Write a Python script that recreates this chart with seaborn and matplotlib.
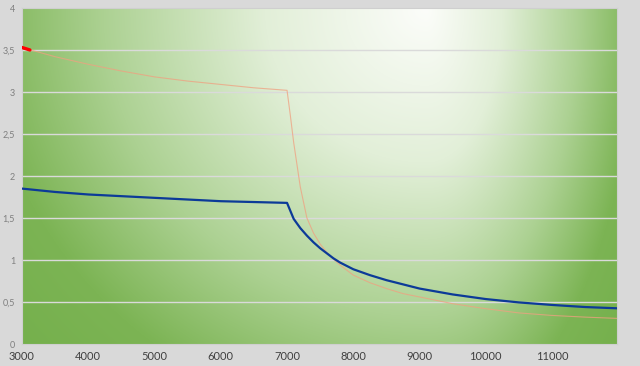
import numpy as np
import pandas as pd
import matplotlib
matplotlib.use("Agg")
import matplotlib.pyplot as plt
import seaborn as sns

# ---- data ----
blue_x = [3000, 3500, 4000, 4500, 5000, 5500, 6000, 6500, 7000,
          7100, 7200, 7300, 7400, 7500, 7600, 7700, 7800, 8000, 8250,
          8500, 8750, 9000, 9500, 10000, 10500, 11000, 11500, 11980]
blue_y = [1.85, 1.81, 1.78, 1.76, 1.74, 1.72, 1.70, 1.69, 1.68,
          1.49, 1.38, 1.29, 1.21, 1.14, 1.08, 1.02, 0.97, 0.89, 0.82,
          0.76, 0.71, 0.66, 0.59, 0.535, 0.495, 0.465, 0.44, 0.425]

orange_x = [3000, 3500, 4000, 4500, 5000, 5500, 6000, 6500, 7000,
            7050, 7100, 7200, 7300, 7400, 7500, 7600, 7700, 7800, 8000,
            8250, 8500, 8750, 9000, 9500, 10000, 10500, 11000, 11500, 11980]
orange_y = [3.53, 3.42, 3.33, 3.25, 3.18, 3.13, 3.09, 3.05, 3.02,
            2.72, 2.40, 1.87, 1.50, 1.32, 1.19, 1.09, 1.01, 0.94, 0.82,
            0.73, 0.66, 0.60, 0.56, 0.48, 0.42, 0.37, 0.34, 0.32, 0.305]

red_x = [3000, 3120]
red_y = [3.53, 3.50]

x_ticks = [3000, 4000, 5000, 6000, 7000, 8000, 9000, 10000, 11000]
x_tick_labels = ["3000", "4000", "5000", "6000", "7000", "8000", "9000", "10000", "11000"]
y_ticks = [0, 0.5, 1, 1.5, 2, 2.5, 3, 3.5, 4]
y_tick_labels = ["0", "0,5", "1", "1,5", "2", "2,5", "3", "3,5", "4"]

df_blue = pd.DataFrame({"x": blue_x, "y": blue_y})
df_orange = pd.DataFrame({"x": orange_x, "y": orange_y})
df_red = pd.DataFrame({"x": red_x, "y": red_y})

sns.set_style("white")
plt.rcParams["font.family"] = ["Lato", "DejaVu Sans"]

fig = plt.figure(figsize=(6.4, 3.66), dpi=100)
fig.patch.set_facecolor("#d9d9d9")
ax = fig.add_axes([22 / 640, 22 / 366, 595 / 640, 336 / 366])

# ---- background gradient (decoration) ----
ny, nx = 200, 400
u = np.linspace(0, 1, nx)
v = np.linspace(1, 0, ny)
U, V = np.meshgrid(u, v)
cx = 0.68
th = np.where(U < cx, (cx - U) / cx, (U - cx) / (1 - cx))
tv = (1 - V) / 1.15
t = np.sqrt(th ** 2 + tv ** 2)
stops_t = [0.0, 0.4, 0.8, 1.1, 1.5]
stops_c = np.array([[252, 253, 250], [226, 239, 216], [172, 209, 146],
                    [124, 180, 84], [112, 173, 71]]) / 255.0
img = np.zeros((ny, nx, 3))
for k in range(3):
    img[..., k] = np.interp(t, stops_t, stops_c[:, k])
ax.imshow(img, extent=[0, 1, 0, 1], transform=ax.transAxes, aspect="auto",
          zorder=0, interpolation="bilinear")

# ---- lines ----
sns.lineplot(data=df_orange, x="x", y="y", ax=ax, color="#f0a080", alpha=0.75,
             linewidth=0.8, zorder=3)
sns.lineplot(data=df_blue, x="x", y="y", ax=ax, color="#0c3a98",
             linewidth=1.6, zorder=4)
sns.lineplot(data=df_red, x="x", y="y", ax=ax, color="#ff0000",
             linewidth=2.4, zorder=5)

ax.set_xlim(3000, 11980)
ax.set_ylim(0, 4)
ax.set_xticks(x_ticks)
ax.set_xticklabels(x_tick_labels, fontsize=8, color="#404040")
ax.set_yticks(y_ticks)
ax.set_yticklabels(y_tick_labels, fontsize=6.5, color="#7f7f7f")
ax.tick_params(axis="both", length=0)
ax.tick_params(axis="x", pad=5)
ax.tick_params(axis="y", pad=5)
ax.set_xlabel("")
ax.set_ylabel("")
ax.grid(False)
for yv in y_ticks[1:-1]:
    ax.axhline(yv, color="#dadada", linewidth=1.0, zorder=1)
for s in ax.spines.values():
    s.set_color("#cfcfcf")
    s.set_linewidth(0.8)

fig.savefig("out.png", dpi=100, facecolor=fig.get_facecolor())
